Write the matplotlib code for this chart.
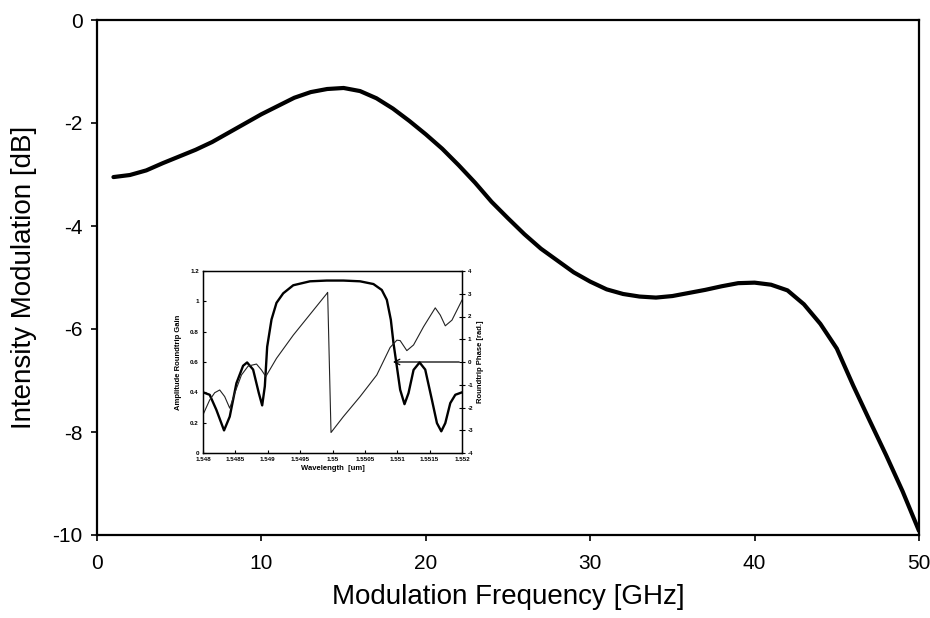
import matplotlib
matplotlib.use("Agg")
import matplotlib.pyplot as plt

plt.rcParams['font.family'] = ['Liberation Sans', 'DejaVu Sans']
plt.rcParams['axes.unicode_minus'] = False

# Main curve: intensity modulation response
freq_ghz = [1, 2, 3, 4, 5, 6, 7, 8, 9, 10, 11, 12, 13, 14, 15, 16, 17, 18, 19, 20,
            21, 22, 23, 24, 25, 26, 27, 28, 29, 30, 31, 32, 33, 34, 35, 36, 37, 38,
            39, 40, 41, 42, 43, 44, 45, 46, 47, 48, 49, 50]
im_db = [-3.05, -3.01, -2.92, -2.78, -2.65, -2.52, -2.37, -2.19, -2.01, -1.83,
         -1.67, -1.51, -1.40, -1.34, -1.32, -1.38, -1.52, -1.72, -1.96, -2.22,
         -2.50, -2.82, -3.16, -3.53, -3.85, -4.16, -4.44, -4.67, -4.90, -5.08,
         -5.23, -5.32, -5.37, -5.39, -5.36, -5.30, -5.24, -5.17, -5.11, -5.10,
         -5.14, -5.25, -5.52, -5.90, -6.38, -7.10, -7.78, -8.45, -9.15, -9.92]
x_ticks = [0, 10, 20, 30, 40, 50]
y_ticks = [0, -2, -4, -6, -8, -10]

# Inset: amplitude roundtrip gain vs wavelength
gain_wl = [1.548000, 1.548103, 1.548206, 1.548325, 1.548413, 1.548516, 1.548619,
           1.548681, 1.548774, 1.548862, 1.548914, 1.548955, 1.548991, 1.549058,
           1.549135, 1.549239, 1.549394, 1.549652, 1.549910, 1.550168, 1.550426,
           1.550632, 1.550761, 1.550839, 1.550901, 1.550942, 1.550994, 1.551045,
           1.551112, 1.551174, 1.551252, 1.551345, 1.551432, 1.551535, 1.551613,
           1.551680, 1.551742, 1.551819, 1.551897, 1.552000]
gain = [0.40, 0.384, 0.285, 0.149, 0.24, 0.46, 0.575, 0.597, 0.55, 0.395, 0.314,
        0.44, 0.70, 0.88, 0.99, 1.053, 1.106, 1.132, 1.137, 1.137, 1.132, 1.114,
        1.075, 1.01, 0.878, 0.724, 0.57, 0.417, 0.322, 0.395, 0.548, 0.597, 0.55,
        0.351, 0.197, 0.143, 0.197, 0.329, 0.384, 0.40]

# Inset: roundtrip phase vs wavelength
phase_wl = [1.548000, 1.548103, 1.548181, 1.548258, 1.548335, 1.548413, 1.548490,
            1.548594, 1.548697, 1.548826, 1.548903, 1.548970, 1.549135, 1.549394,
            1.549652, 1.549910, 1.549925, 1.549977, 1.550168, 1.550426, 1.550684,
            1.550890, 1.550994, 1.551045, 1.551148, 1.551252, 1.551406, 1.551587,
            1.551665, 1.551742, 1.551845, 1.552000]
phase = [-2.32, -1.67, -1.35, -1.23, -1.52, -2.03, -1.37, -0.57, -0.18, -0.09,
         -0.35, -0.64, 0.16, 1.18, 2.09, 3.0, 3.06, -3.10, -2.40, -1.52, -0.57,
         0.64, 0.96, 0.94, 0.50, 0.75, 1.55, 2.38, 2.06, 1.59, 1.84, 2.72]
inset_x_ticks = [1.548, 1.5485, 1.549, 1.5495, 1.55, 1.5505, 1.551, 1.5515, 1.552]
inset_x_labels = ["1.548", "1.5485", "1.549", "1.5495", "1.55", "1.5505", "1.551",
                  "1.5515", "1.552"]
inset_gain_ticks = [0, 0.2, 0.4, 0.6, 0.8, 1.0, 1.2]
inset_gain_labels = ["0", "0.2", "0.4", "0.6", "0.8", "1", "1.2"]
inset_phase_ticks = [-4, -3, -2, -1, 0, 1, 2, 3, 4]

fig = plt.figure(figsize=(9.3, 6.18), dpi=100)
ax = fig.add_axes([97 / 930, 1 - 535 / 618, 822 / 930, 515 / 618])
ax.plot(freq_ghz, im_db, color='black', lw=3.0, solid_capstyle='round',
        solid_joinstyle='round')
ax.set_xlim(0, 50)
ax.set_ylim(-10, 0)
ax.set_xticks(x_ticks)
ax.set_yticks(y_ticks)
ax.tick_params(direction='out', length=4.5, width=1.2, labelsize=15)
ax.tick_params(axis='y', pad=6)
ax.tick_params(axis='x', pad=9)
for s in ax.spines.values():
    s.set_linewidth(1.6)
ax.set_xlabel('Modulation Frequency [GHz]', fontsize=20, labelpad=8)
ax.set_ylabel('Intensity Modulation [dB]', fontsize=20, labelpad=11)

# Inset
axi = fig.add_axes([203 / 930, 1 - 453 / 618, 259 / 930, 182 / 618])
axi.plot(gain_wl, gain, color='black', lw=1.7, solid_joinstyle='round')
axi.set_xlim(1.548, 1.552)
axi.set_ylim(0, 1.2)
axi.set_xticks(inset_x_ticks)
axi.set_xticklabels(inset_x_labels)
axi.set_yticks(inset_gain_ticks)
axi.set_yticklabels(inset_gain_labels)
axi.tick_params(direction='in', length=2.5, width=0.8, labelsize=4.5, pad=3)
for lab in axi.get_xticklabels() + axi.get_yticklabels():
    lab.set_fontweight('bold')
axi.set_xlabel('Wavelength  [um]', fontsize=5.5, fontweight='bold', labelpad=2)
axi.set_ylabel('Amplitude Roundtrip Gain', fontsize=5.5, fontweight='bold', labelpad=6)
for s in axi.spines.values():
    s.set_linewidth(1.0)

axp = axi.twinx()
axp.plot(phase_wl, phase, color='#222222', lw=0.8)
axp.set_ylim(-4, 4)
axp.set_yticks(inset_phase_ticks)
axp.tick_params(direction='inout', length=4, width=0.8, labelsize=4.5, pad=2)
for lab in axp.get_yticklabels():
    lab.set_fontweight('bold')
axp.set_ylabel('Roundtrip Phase [rad.]', fontsize=5.5, fontweight='bold', labelpad=3)
axp.annotate('', xy=(1.55089, 0.0), xytext=(1.552, 0.0),
             arrowprops=dict(arrowstyle='->', color='black', lw=0.9))

fig.savefig('out.png', dpi=100)
